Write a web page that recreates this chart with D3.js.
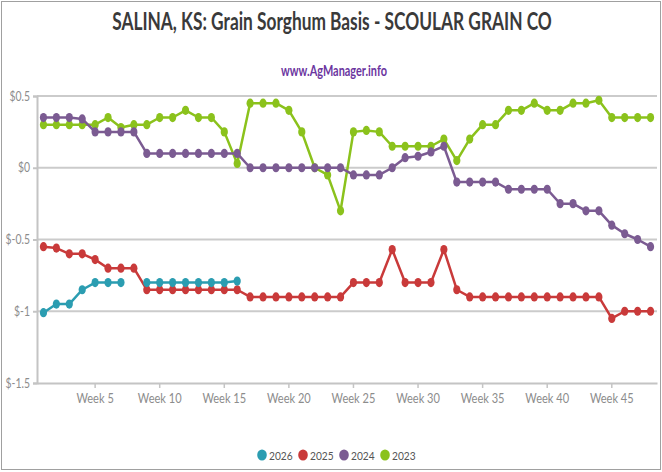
<!DOCTYPE html>
<html>
<head>
<meta charset="utf-8">
<script src="https://cdn.jsdelivr.net/npm/d3@7"></script>
<style>
  html, body { margin: 0; padding: 0; background: #fff; }
  svg { display: block; }
</style>
</head>
<body>
<div id="chart"></div>
<script>
const titleText = "SALINA, KS: Grain Sorghum Basis - SCOULAR GRAIN CO";
const subtitleText = "www.AgManager.info";
const weeks = d3.range(1, 49).map(d => "Week " + d);
const xTickLabels = ["Week 5","Week 10","Week 15","Week 20","Week 25","Week 30","Week 35","Week 40","Week 45"];
const yTicks = [0.5, 0, -0.5, -1, -1.5];
const yTickLabels = ["$0.5", "$0", "$-0.5", "$-1", "$-1.5"];
const seriesNames = ["2026", "2025", "2024", "2023"];
const seriesColors = ["#2b9db1", "#c93a3a", "#7b5b92", "#8bc21c"];

const v2026 = [-1.01,-0.95,-0.95,-0.85,-0.8,-0.8,-0.8,null,-0.8,-0.8,-0.8,-0.8,-0.8,-0.8,-0.8,-0.79,
  null,null,null,null,null,null,null,null,null,null,null,null,null,null,null,null,
  null,null,null,null,null,null,null,null,null,null,null,null,null,null,null,null];
const v2025 = [-0.55,-0.56,-0.6,-0.6,-0.64,-0.7,-0.7,-0.7,-0.85,-0.85,-0.85,-0.85,-0.85,-0.85,-0.85,-0.85,
  -0.9,-0.9,-0.9,-0.9,-0.9,-0.9,-0.9,-0.9,-0.8,-0.8,-0.8,-0.57,-0.8,-0.8,-0.8,-0.57,
  -0.85,-0.9,-0.9,-0.9,-0.9,-0.9,-0.9,-0.9,-0.9,-0.9,-0.9,-0.9,-1.05,-1.0,-1.0,-1.0];
const v2024 = [0.35,0.35,0.35,0.34,0.25,0.25,0.25,0.25,0.1,0.1,0.1,0.1,0.1,0.1,0.1,0.1,
  0,0,0,0,0,0,0,0,-0.05,-0.05,-0.05,0,0.07,0.08,0.11,0.15,
  -0.1,-0.1,-0.1,-0.1,-0.15,-0.15,-0.15,-0.15,-0.25,-0.25,-0.3,-0.3,-0.4,-0.46,-0.5,-0.55];
const v2023 = [0.3,0.3,0.3,0.3,0.3,0.35,0.28,0.3,0.3,0.35,0.35,0.4,0.35,0.35,0.25,0.03,
  0.45,0.45,0.45,0.4,0.25,0,-0.05,-0.3,0.25,0.26,0.25,0.15,0.15,0.15,0.15,0.2,
  0.05,0.2,0.3,0.3,0.4,0.4,0.45,0.4,0.4,0.45,0.45,0.47,0.35,0.35,0.35,0.35];

const seriesValues = [v2026, v2025, v2024, v2023];

const W = 662, H = 472;
const margin = {left: 37, right: 5, top: 96, bottom: 89};
const font = "Lato, 'Open Sans', sans-serif";

// horizontally condense a text element (font in reference is a narrow face)
function condense(sel, factor) {
  sel.each(function() {
    const w = this.getComputedTextLength();
    d3.select(this).attr("textLength", w * factor).attr("lengthAdjust", "spacingAndGlyphs");
  });
}
// centered text squeezed to a target width via a scale transform
function fitText(parent, txt, cxp, by, size, weight, color, targetW) {
  const g = parent.append("g");
  const t = g.append("text").attr("x", 0).attr("y", 0).attr("text-anchor", "middle")
    .attr("font-family", font).attr("font-weight", weight).attr("font-size", size)
    .attr("fill", color).text(txt);
  const w = t.node().getComputedTextLength();
  g.attr("transform", `translate(${cxp},${by}) scale(${targetW / w},1)`);
}

const svg = d3.select("#chart").append("svg").attr("width", W).attr("height", H);
svg.append("rect").attr("x", 1.5).attr("y", 1.5).attr("width", W - 3).attr("height", H - 4)
  .attr("fill", "#fff").attr("stroke", "#a0a0a0").attr("stroke-width", 1);

fitText(svg, titleText, 332, 30, 24, "bold", "#3a3a3a", 440);
fitText(svg, subtitleText, 334, 76, 15, "bold", "#6b35a0", 106);

const x = d3.scaleBand().domain(weeks).range([margin.left, W - margin.right]);
const y = d3.scaleLinear().domain([-1.5, 0.5]).range([H - margin.bottom, margin.top]);
const cx = w => x(w) + x.bandwidth() / 2;

// gridlines
svg.append("g").selectAll("line").data(yTicks.filter(t => t > -1.5)).join("line")
  .attr("x1", margin.left).attr("x2", W - margin.right)
  .attr("y1", d => y(d)).attr("y2", d => y(d))
  .attr("stroke", "#cbcbcb").attr("stroke-width", 2);

// y axis
const yAxis = d3.axisLeft(y).tickValues(yTicks).tickSize(4).tickPadding(3)
  .tickFormat((d, i) => yTickLabels[i]);
const ya = svg.append("g").attr("transform", `translate(${margin.left},0)`).call(yAxis);
ya.select(".domain").attr("stroke", "#c4c4c4").attr("stroke-width", 2);
ya.selectAll(".tick line").attr("stroke", "#c4c4c4").attr("stroke-width", 2);
ya.selectAll(".tick text").attr("font-family", font).attr("font-size", 13).attr("fill", "#8c8c8c")
  .call(condense, 0.8);

// x axis
const xAxis = d3.axisBottom(x).tickValues(xTickLabels).tickSize(5).tickPadding(6).tickSizeOuter(0);
const xa = svg.append("g").attr("transform", `translate(0,${H - margin.bottom})`).call(xAxis);
xa.select(".domain").attr("stroke", "#c4c4c4").attr("stroke-width", 2);
xa.selectAll(".tick line").attr("stroke", "#c4c4c4").attr("stroke-width", 1.5);
xa.selectAll(".tick text").attr("font-family", font).attr("font-size", 13).attr("fill", "#8c8c8c")
  .call(condense, 0.85);

// series (draw in reverse order so 2026 is on top)
const line = d3.line().defined(d => d.v !== null).x(d => cx(d.w)).y(d => y(d.v));
for (let s = seriesNames.length - 1; s >= 0; s--) {
  const data = weeks.map((w, i) => ({w, v: seriesValues[s][i]}));
  const sg = svg.append("g");
  sg.append("path").datum(data).attr("d", line).attr("fill", "none")
    .attr("stroke", seriesColors[s]).attr("stroke-width", 2.5).attr("stroke-linejoin", "round");
  sg.selectAll("ellipse").data(data.filter(d => d.v !== null)).join("ellipse")
    .attr("cx", d => cx(d.w)).attr("cy", d => y(d.v)).attr("rx", 3.6).attr("ry", 4.6)
    .attr("fill", seriesColors[s]);
}

// legend
const legendX = [262, 303, 344, 385];
const lg = svg.append("g");
seriesNames.forEach((n, i) => {
  lg.append("ellipse").attr("cx", legendX[i]).attr("cy", 455).attr("rx", 4.8).attr("ry", 5.6).attr("fill", seriesColors[i]);
  lg.append("text").attr("x", legendX[i] + 7).attr("y", 459.5).attr("font-family", font)
    .attr("font-size", 12).attr("fill", "#555").text(n).call(condense, 0.85);
});
</script>
</body>
</html>
